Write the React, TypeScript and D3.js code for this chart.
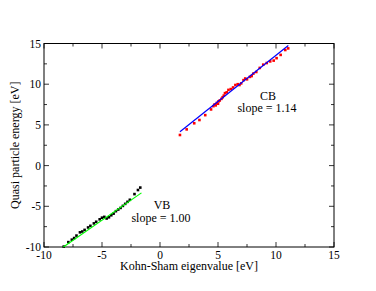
import React from 'react';
import * as d3 from 'd3';

const cbX = [1.72, 2.3, 2.95, 3.4, 3.9, 4.4, 4.6, 4.7, 4.8, 4.9, 5.0, 5.05, 5.15, 5.3, 5.4, 5.5, 5.6, 5.75, 5.9, 6.1, 6.3, 6.5, 6.7, 6.85, 7.0, 7.2, 7.35, 7.5, 7.75, 7.9, 8.05, 8.3, 8.6, 8.9, 9.2, 9.5, 9.8, 10.05, 10.4, 10.8, 11.05];
const cbY = [3.76, 4.45, 5.2, 5.6, 6.2, 6.9, 7.3, 7.5, 7.4, 7.7, 7.6, 7.9, 8.0, 8.2, 8.4, 8.6, 8.9, 9.0, 9.3, 9.4, 9.6, 9.9, 10.0, 9.9, 10.1, 10.5, 10.7, 10.6, 10.9, 11.0, 11.3, 11.5, 12.0, 12.4, 12.6, 12.8, 12.9, 13.2, 13.6, 14.2, 14.4];
const vbX = [-8.3, -7.9, -7.6, -7.4, -7.2, -6.9, -6.7, -6.5, -6.2, -6.0, -5.7, -5.5, -5.2, -5.0, -4.8, -4.6, -4.4, -4.2, -4.0, -3.8, -3.6, -3.4, -3.2, -3.0, -2.8, -2.6, -2.2, -1.9, -1.7];
const vbY = [-9.95, -9.4, -9.1, -8.9, -8.6, -8.2, -8.1, -7.9, -7.6, -7.4, -7.1, -6.9, -6.6, -6.4, -6.3, -6.5, -6.35, -6.1, -5.9, -5.6, -5.4, -5.2, -4.95, -4.7, -4.45, -4.2, -3.5, -3.0, -2.7];
// fit lines: [x0, y0, x1, y1]
const cbFit = [1.72, 4.16, 11.06, 14.75];
const vbFit = [-8.33, -10.0, -1.6, -3.35];
const majorTicks = [-10, -5, 0, 5, 10, 15];

const left = 44, right = 334, top = 43.5, bottom = 247;
const font = '"Liberation Serif", "DejaVu Serif", serif';

export default function App() {
  const x = d3.scaleLinear().domain([-10, 15]).range([left, right]);
  const y = d3.scaleLinear().domain([-10, 15]).range([bottom, top]);
  const minor = d3.range(-10, 15.01, 2.5);
  const line = d3.line<number[]>().x(d => x(d[0])).y(d => y(d[1]));

  return (
    <svg width={376} height={291} style={{ position: 'absolute', left: 0, top: 0 }}>
      <rect width={376} height={291} fill="#fff" />
      <rect x={left} y={top} width={right - left} height={bottom - top} fill="none" stroke="#000" strokeWidth={1} />
      {minor.map(t => {
        const isMajor = majorTicks.includes(t);
        const len = isMajor ? 5 : 3;
        return (
          <g key={t} stroke="#000" strokeWidth={0.8}>
            <line x1={x(t)} x2={x(t)} y1={bottom} y2={bottom - len} />
            <line x1={x(t)} x2={x(t)} y1={top} y2={top + len} />
            <line x1={left} x2={left + len} y1={y(t)} y2={y(t)} />
            <line x1={right} x2={right - len} y1={y(t)} y2={y(t)} />
          </g>
        );
      })}
      {majorTicks.map(t => (
        <g key={'l' + t} fontFamily={font} fontSize={11.5} fill="#000">
          <text x={x(t)} y={bottom + 11.5} textAnchor="middle">{t}</text>
          <text x={left - 3} y={y(t) + 4} textAnchor="end">{t}</text>
        </g>
      ))}
      {cbX.map((v, i) => (
        <rect key={'c' + i} x={x(v) - 1.3} y={y(cbY[i]) - 1.3} width={2.6} height={2.6} fill="#ff0000" />
      ))}
      {vbX.map((v, i) => (
        <rect key={'v' + i} x={x(v) - 1.3} y={y(vbY[i]) - 1.3} width={2.6} height={2.6} fill="#000" />
      ))}
      <path d={line([[cbFit[0], cbFit[1]], [cbFit[2], cbFit[3]]]) || ''} stroke="#0000ff" strokeWidth={1.2} fill="none" />
      <path d={line([[vbFit[0], vbFit[1]], [vbFit[2], vbFit[3]]]) || ''} stroke="#00ff00" strokeWidth={1.2} fill="none" />
      <g fontFamily={font} fontSize={12} fill="#000" textAnchor="middle">
        <text x={268} y={100}>CB</text>
        <text x={267} y={112}>slope = 1.14</text>
        <text x={162} y={209}>VB</text>
        <text x={161} y={222}>slope = 1.00</text>
        <text x={189} y={269.5}>Kohn-Sham eigenvalue [eV]</text>
        <text transform={`translate(19,${(top + bottom) / 2}) rotate(-90)`}>Quasi particle energy [eV]</text>
      </g>
    </svg>
  );
}
